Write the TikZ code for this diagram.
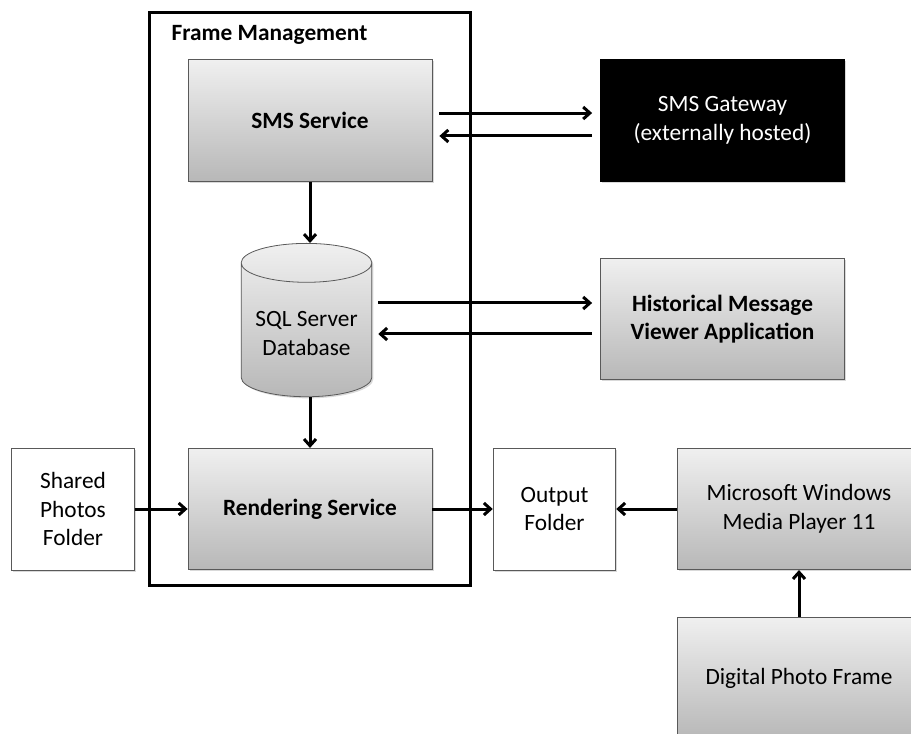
\documentclass[tikz,border=0pt]{standalone}
\usepackage{fontspec}
\setmainfont{Carlito}
\usepackage{tikz}
\usetikzlibrary{arrows.meta,shapes.geometric,shadows}

\begin{document}
\begin{tikzpicture}[x=0.75pt, y=-0.75pt,
  font=\fontsize{17.5}{21.5}\selectfont,
  shade/.style={drop shadow={shadow xshift=1.2pt, shadow yshift=-1.2pt, opacity=0.3}},
  box/.style={draw=black!65, line width=0.6pt, top color=black!6, bottom color=black!28,
    minimum width=183pt, minimum height=91pt, inner sep=2pt, align=center, shade},
  plain/.style={draw=black!65, line width=0.6pt, fill=white,
    minimum width=92pt, minimum height=91.5pt, inner sep=2pt, align=center, shade},
  arr/.style={line width=2.25pt, -{Straight Barb[length=5pt, width=9pt]}}]
  \useasboundingbox (0,0) rectangle (911,734);
  \clip (0,0) rectangle (911,734);
  \node[draw, line width=2.25pt, minimum width=240.75pt, minimum height=429pt] (fm) at (309.5,299) {};
  \node[anchor=base west, font=\fontsize{17.5}{21.5}\selectfont\bfseries] (fmlbl) at (167,40.5) {Frame Management};
  \node[box, font=\fontsize{17.5}{21.5}\selectfont\bfseries] (sms) at (310,120.5) {SMS Service};
  \node[cylinder, shape border rotate=90, aspect=0.35, draw=black!65, line width=0.6pt,
    top color=black!6, bottom color=black!28, minimum width=98pt, minimum height=115pt,
    align=center, shade, anchor=north] (db) at (306.5,243) {SQL Server\\Database};
  \node[box, font=\fontsize{17.5}{21.5}\selectfont\bfseries] (render) at (310,509) {Rendering Service};
  \node[plain] (shared) at (73,509) {Shared\\Photos\\Folder};
  \node[plain] (output) at (554.5,509) {Output\\Folder};
  \node[box] (media) at (799,509) {Microsoft Windows\\Media Player 11};
  \node[box, minimum height=91.5pt] (digital) at (799,678) {Digital Photo Frame};
  \node[box, draw=black, fill=black, top color=black, bottom color=black, text=white] (gw) at (722.5,120.5) {SMS Gateway\\(externally hosted)};
  \node[box, font=\fontsize{17.5}{21.5}\selectfont\bfseries] (hist) at (722.5,319) {Historical Message\\Viewer Application};
  \coordinate (hup) at ([yshift=12pt]hist.west);
  \coordinate (hdn) at ([yshift=-11.25pt]hist.west);
  % connectors
  \draw[arr, shorten <=5.25pt, shorten >=6pt] ([yshift=5.6pt]sms.east) -- ([yshift=5.6pt]gw.west);
  \draw[arr, shorten <=6pt, shorten >=5.25pt] ([yshift=-11.6pt]gw.west) -- ([yshift=-11.6pt]sms.east);
  \draw[arr] (sms.south) -- (sms.south |- db.north);
  \draw[arr, shorten <=4.5pt, shorten >=6pt] (db.east |- hup) -- (hup);
  \draw[arr, shorten <=6pt, shorten >=4.5pt] (hdn) -- (db.east |- hdn);
  \draw[arr] (render.north |- db.south) -- (render.north);
  \draw[arr] (shared.east) -- (render.west);
  \draw[arr] (render.east) -- (output.west);
  \draw[arr] (media.west) -- (output.east);
  \draw[arr] (digital.north) -- (media.south);
\end{tikzpicture}
\end{document}
